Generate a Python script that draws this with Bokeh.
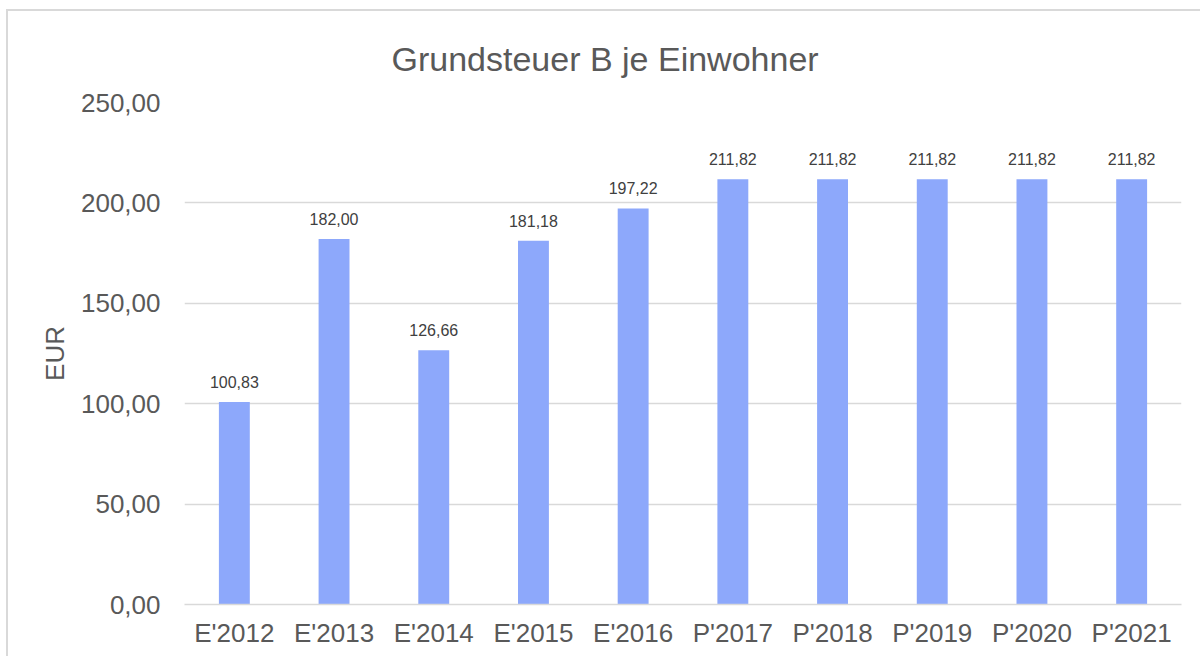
from bokeh.plotting import figure
from bokeh.models import ColumnDataSource, FactorRange, Range1d, FixedTicker, CustomJSTickFormatter, LabelSet
from bokeh.core.properties import value
from bokeh.embed import file_html
from bokeh.resources import INLINE

categories = ["E'2012", "E'2013", "E'2014", "E'2015", "E'2016", "P'2017", "P'2018", "P'2019", "P'2020", "P'2021"]
values = [100.83, 182.00, 126.66, 181.18, 197.22, 211.82, 211.82, 211.82, 211.82, 211.82]
y_ticks = [0, 50, 100, 150, 200, 250]
title_text = "Grundsteuer B je Einwohner"

labels = [f"{v:.2f}".replace(".", ",") for v in values]
src = ColumnDataSource(dict(cat=categories, val=values, lab=labels))

FONT = "Liberation Sans"
p = figure(width=1194, height=647, output_backend="svg", toolbar_location=None,
           x_range=FactorRange(*categories, range_padding=0), y_range=Range1d(0, 250),
           min_border_left=176, min_border_right=21, min_border_top=91, min_border_bottom=54)
p.styles = {"border-left": "2px solid #d9d9d9", "border-top": "2px solid #d9d9d9",
            "margin-left": "6px", "margin-top": "9px"}
p.outline_line_color = None
p.background_fill_color = "white"
p.border_fill_color = "white"

p.vbar(x="cat", top="val", width=0.31, source=src, fill_color="#8DA8FB", line_color=None)

p.add_layout(LabelSet(x="cat", y="val", text="lab", source=src, y_offset=14,
                      text_align="center", text_baseline="alphabetic",
                      text_font=value(FONT), text_font_size="16px", text_color="#404040"))

p.title.text = title_text
p.title.text_font = FONT
p.title.text_font_size = "34px"
p.title.text_font_style = "normal"
p.title.text_color = "#595959"
p.title.align = "left"
p.title.offset = 207
p.title.standoff = 50

p.yaxis.ticker = FixedTicker(ticks=y_ticks)
p.yaxis.formatter = CustomJSTickFormatter(code="return tick.toFixed(2).replace('.', ',');")
p.yaxis.axis_label = "EUR"
p.yaxis.axis_label_text_font = FONT
p.yaxis.axis_label_text_font_size = "26px"
p.yaxis.axis_label_text_font_style = "normal"
p.yaxis.axis_label_text_color = "#595959"
p.yaxis.axis_label_standoff = 8
p.yaxis.major_label_text_font = FONT
p.yaxis.major_label_text_font_size = "26px"
p.yaxis.major_label_text_color = "#595959"
p.yaxis.major_label_standoff = 24
p.yaxis.axis_line_color = None
p.yaxis.major_tick_line_color = None
p.yaxis.minor_tick_line_color = None
p.yaxis.major_tick_out = 0

p.xaxis.major_label_text_font = FONT
p.xaxis.major_label_text_font_size = "26px"
p.xaxis.major_label_text_color = "#595959"
p.xaxis.major_label_standoff = 13
p.xaxis.axis_line_color = "#d9d9d9"
p.xaxis.axis_line_width = 1.5
p.xaxis.major_tick_line_color = None
p.xaxis.major_tick_out = 0

p.xgrid.grid_line_color = None
p.ygrid.grid_line_color = "#d9d9d9"
p.ygrid.grid_line_width = 1.3

open("out.html", "w").write(file_html(p, INLINE))
